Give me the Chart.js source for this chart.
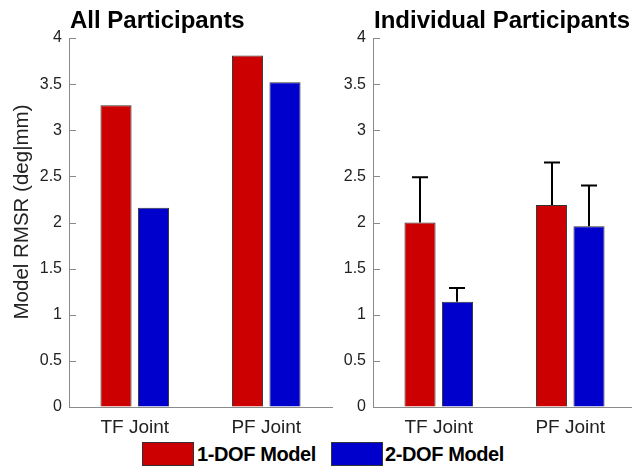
<!DOCTYPE html>
<html>
<head>
<meta charset="utf-8">
<script src="https://cdn.jsdelivr.net/npm/chart.js@4.4.0/dist/chart.umd.min.js"></script>
<style>
  html, body { margin: 0; padding: 0; background: #fff; }
  body { width: 632px; height: 470px; position: relative; overflow: hidden; }
  canvas { position: absolute; top: 0; }
  #cAll { left: 0; }
  #cInd { left: 330px; }
  .legend { position: absolute; top: 442px; height: 24px; font-family: "Liberation Sans", Arial, sans-serif; font-weight: bold; font-size: 20px; letter-spacing: -0.4px; color: #000; }
  .swatch { position: absolute; top: 0; width: 50px; height: 22px; border: 1px solid #333; }
  .ltext { position: absolute; top: 0; line-height: 24px; white-space: nowrap; }
</style>
</head>
<body>
<canvas id="cAll" width="345" height="440"></canvas>
<canvas id="cInd" width="310" height="440"></canvas>
<div class="legend" id="legend"></div>
<script>
// Joints on the x axis
const categories = ['TF Joint', 'PF Joint'];
const seriesNames = ['1-DOF Model', '2-DOF Model'];
const seriesColors = ['#CC0000', '#0000CC'];

// Pooled RMSR across all participants
const allOneDof = [3.27, 3.81];
const allTwoDof = [2.16, 3.52];

// Mean RMSR over individual participants, with upper error (SD)
const indOneDof = [2.00, 2.19];
const indTwoDof = [1.14, 1.96];
const indOneDofErr = [0.49, 0.46];
const indTwoDofErr = [0.15, 0.44];

// y axis
const yMin = 0, yMax = 4, yStep = 0.5;
const yAxisLabel = 'Model RMSR (deg|mm)';

const FONT = '"Liberation Sans", Arial, sans-serif';
const AXIS_GRAY = '#8a8a8a';
const TEXT = '#222';

// Inward tick marks on the y axis plus panel title / y label text
const decorations = {
  id: 'decorations',
  afterDraw(chart, args, opts) {
    const ctx = chart.ctx;
    const area = chart.chartArea;
    const ys = chart.scales.y;
    ctx.save();
    ctx.strokeStyle = AXIS_GRAY;
    ctx.lineWidth = 1;
    ys.ticks.forEach(t => {
      const py = Math.round(ys.getPixelForValue(t.value)) + 0.5;
      ctx.beginPath();
      ctx.moveTo(area.left, py);
      ctx.lineTo(area.left + 7, py);
      ctx.stroke();
    });
    ctx.fillStyle = '#000';
    ctx.font = 'bold 24px ' + FONT;
    ctx.textBaseline = 'alphabetic';
    ctx.textAlign = 'left';
    ctx.fillText(opts.title, area.left + 1, 28);
    if (opts.yLabel) {
      ctx.translate(opts.yLabelX, opts.yLabelY);
      ctx.rotate(-Math.PI / 2);
      ctx.textAlign = 'center';
      ctx.textBaseline = 'middle';
      ctx.font = '20.5px ' + FONT;
      ctx.fillStyle = TEXT;
      ctx.fillText(opts.yLabel, 0, 0);
    }
    ctx.restore();
  }
};

// Upper-only error bars with a short cap
const errorBars = {
  id: 'errorBars',
  afterDatasetsDraw(chart, args, opts) {
    if (!opts.errors) return;
    const ctx = chart.ctx;
    const ys = chart.scales.y;
    ctx.save();
    ctx.strokeStyle = '#000';
    ctx.lineWidth = 2;
    chart.data.datasets.forEach((ds, di) => {
      const meta = chart.getDatasetMeta(di);
      meta.data.forEach((bar, i) => {
        const v = ds.data[i];
        const top = ys.getPixelForValue(v + opts.errors[di][i]);
        const base = ys.getPixelForValue(v);
        const x = Math.round(bar.x);
        ctx.beginPath();
        ctx.moveTo(x, base);
        ctx.lineTo(x, top);
        ctx.moveTo(x - 8, top);
        ctx.lineTo(x + 8, top);
        ctx.stroke();
      });
    });
    ctx.restore();
  }
};

function makeChart(id, one, two, cfg) {
  return new Chart(document.getElementById(id), {
    type: 'bar',
    data: {
      labels: categories,
      datasets: [
        { label: seriesNames[0], data: one, backgroundColor: seriesColors[0], borderColor: '#333', borderWidth: 1 },
        { label: seriesNames[1], data: two, backgroundColor: seriesColors[1], borderColor: '#333', borderWidth: 1 }
      ]
    },
    options: {
      responsive: false,
      animation: false,
      devicePixelRatio: 1,
      categoryPercentage: 0.57,
      barPercentage: 0.83,
      layout: { padding: { top: 38, right: cfg.padRight, left: 0, bottom: 0 } },
      plugins: {
        legend: { display: false },
        tooltip: { enabled: false },
        decorations: { title: cfg.title, yLabel: cfg.yLabel, yLabelX: 22, yLabelY: 212 },
        errorBars: { errors: cfg.errors }
      },
      scales: {
        x: {
          grid: { display: true, drawOnChartArea: false, drawTicks: false, color: AXIS_GRAY },
          border: { display: true, color: AXIS_GRAY, width: 1 },
          ticks: { color: TEXT, font: { family: FONT, size: 19 }, padding: 9, maxRotation: 0 },
          afterFit(s) { s.height = 33; }
        },
        y: {
          min: yMin, max: yMax,
          grid: { display: true, drawOnChartArea: false, drawTicks: false, color: AXIS_GRAY },
          border: { display: true, color: AXIS_GRAY, width: 1 },
          ticks: { stepSize: yStep, color: TEXT, font: { family: FONT, size: 16 }, padding: 7,
                   callback: v => String(v) },
          afterFit(s) { s.width = cfg.yWidth; }
        }
      }
    },
    plugins: [decorations, errorBars]
  });
}

makeChart('cAll', allOneDof, allTwoDof, { title: 'All Participants', yLabel: yAxisLabel, yWidth: 69, padRight: 13, errors: null });
makeChart('cInd', indOneDof, indTwoDof, { title: 'Individual Participants', yLabel: null, yWidth: 43, padRight: 4, errors: [indOneDofErr, indTwoDofErr] });

// Legend below both panels
const legend = document.getElementById('legend');
const legendLayout = [{ box: 142, text: 197 }, { box: 331, text: 385 }];
seriesNames.forEach((name, i) => {
  const sw = document.createElement('div');
  sw.className = 'swatch';
  sw.style.left = legendLayout[i].box + 'px';
  sw.style.background = seriesColors[i];
  legend.appendChild(sw);
  const tx = document.createElement('div');
  tx.className = 'ltext';
  tx.style.left = legendLayout[i].text + 'px';
  tx.textContent = name;
  legend.appendChild(tx);
});
</script>
</body>
</html>
